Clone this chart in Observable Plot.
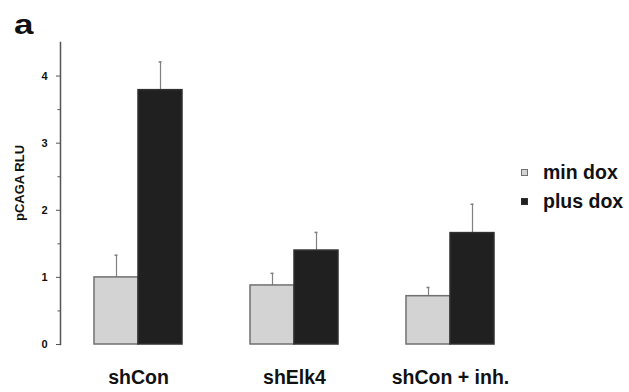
<!DOCTYPE html>
<html><head><meta charset="utf-8">
<script src="https://cdn.jsdelivr.net/npm/d3@7"></script>
<script src="https://cdn.jsdelivr.net/npm/@observablehq/plot@0.6"></script>
<style>
html,body{margin:0;padding:0;background:#fff;}
#wrap{position:relative;width:629px;height:392px;font-family:"Liberation Sans",Arial,sans-serif;}
#panel{position:absolute;left:14px;top:9px;font-size:28px;line-height:normal;font-weight:bold;color:#111;transform:scaleX(1.25);transform-origin:left top;}
#ylab{position:absolute;left:18.5px;top:183px;font-size:13px;line-height:1;font-weight:bold;color:#111;white-space:nowrap;transform:translate(-50%,-50%) rotate(-90deg);}
#legend{position:absolute;left:521px;top:158px;font-size:19.5px;font-weight:bold;color:#111;}
#legend .row{display:flex;align-items:center;height:29px;}
#legend .sw{width:7px;height:7px;box-sizing:border-box;margin-right:15px;}
</style></head>
<body><div id="wrap"><div id="panel">a</div><div id="ylab"></div><div id="legend"></div></div>
<script>
const groups = ["shCon", "shElk4", "shCon + inh."];
const series = ["min dox", "plus dox"];
const minDox = [1.0, 0.88, 0.72];
const minDoxErr = [0.33, 0.18, 0.13];
const plusDox = [3.79, 1.40, 1.66];
const plusDoxErr = [0.42, 0.27, 0.43];
const majorTicks = [0, 1, 2, 3, 4];
const minorTicks = [0.5, 1.5, 2.5, 3.5];
const yLabel = "pCAGA RLU";

const fills = {"min dox": "#d3d3d3", "plus dox": "#202020"};
const strokes = {"min dox": "#707070", "plus dox": "#303030"};

const rows = [];
groups.forEach((g, i) => {
  rows.push({group: g, series: series[0], value: minDox[i], err: minDoxErr[i]});
  rows.push({group: g, series: series[1], value: plusDox[i], err: plusDoxErr[i]});
});

const chart = Plot.plot({
  width: 629, height: 392,
  marginLeft: 59, marginRight: 100.5, marginTop: 42, marginBottom: 48,
  style: {fontFamily: "'Liberation Sans', Arial, sans-serif", color: "#111", background: "transparent"},
  fx: {domain: groups, paddingInner: 0, paddingOuter: 0, label: null},
  x: {domain: series, paddingInner: 0, paddingOuter: 0.739, axis: null},
  y: {domain: [0, 4.5], axis: null},
  color: {domain: series, range: series.map(s => fills[s])},
  marks: [
    Plot.frame({anchor: "left", facetAnchor: "left", stroke: "#555", strokeWidth: 1.5}),
    Plot.axisY({ticks: minorTicks, tickSize: 2.5, tickFormat: () => "", stroke: "#555", label: null}),
    Plot.axisY({ticks: majorTicks, tickSize: 4, tickPadding: 9, tickFormat: d => String(d), fontSize: 11, fontWeight: "bold", stroke: "#555", label: null}),
    Plot.axisFx({anchor: "bottom", tickSize: 0, tickPadding: 26, fontSize: 19.5, fontWeight: "bold", label: null}),
    Plot.ruleX(rows, {fx: "group", x: "series", y1: "value", y2: d => d.value + d.err, stroke: "#808080", strokeWidth: 1.2}),
    Plot.tickY(rows, {fx: "group", x: "series", y: d => d.value + d.err, stroke: "#808080", strokeWidth: 1.5, insetLeft: 20.5, insetRight: 20.5}),
    Plot.barY(rows, {fx: "group", x: "series", y: "value", fill: "series", stroke: d => strokes[d.series], strokeWidth: 1.5})
  ]
});
document.getElementById("wrap").prepend(chart);
chart.style.position = "absolute"; chart.style.left = "0"; chart.style.top = "0";

document.getElementById("ylab").textContent = yLabel;
const lg = document.getElementById("legend");
series.forEach(s => {
  const r = document.createElement("div"); r.className = "row";
  const sw = document.createElement("div"); sw.className = "sw";
  sw.style.background = fills[s]; sw.style.border = "1.2px solid " + strokes[s];
  const t = document.createElement("span"); t.textContent = s;
  r.append(sw, t); lg.append(r);
});
</script></body></html>
